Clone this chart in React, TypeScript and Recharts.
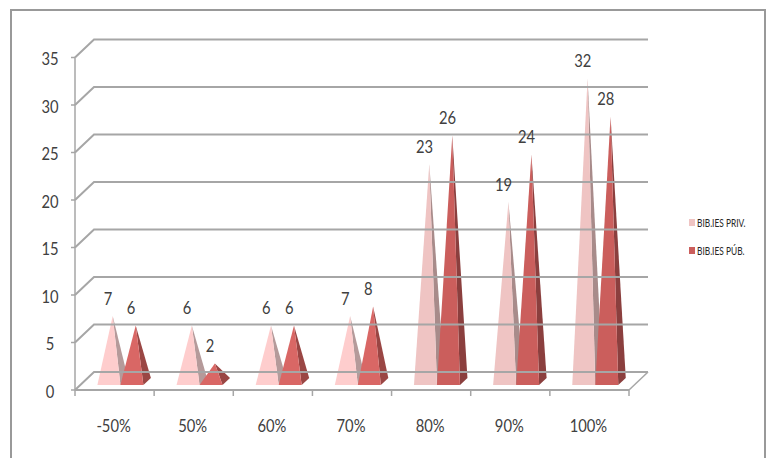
import { BarChart, Bar, XAxis, YAxis, Legend, LabelList } from "recharts";

const categories = ["-50%", "50%", "60%", "70%", "80%", "90%", "100%"];
const privValues = [7, 6, 6, 7, 23, 19, 32];
const pubValues = [6, 2, 6, 8, 26, 24, 28];
const yTicks = [0, 5, 10, 15, 20, 25, 30, 35];

const chartData = categories.map((name, i) => ({
  name,
  priv: privValues[i],
  pub: pubValues[i],
}));

const GRID = "#a6a6a6";
const TEXT = "#404040";
const FONT = "Lato, sans-serif";

// depth of the 3d box, in px
const DEPTH_X = 19;
const DEPTH_Y = 18;
const PLOT_WIDTH = 554;
const BAND = PLOT_WIDTH / categories.length;
const SHIFT = 5.4;

const TALL = 19;
const TONES: Record<string, { low: string[]; high: string[] }> = {
  priv: { low: ["#fecdcd", "#b59a9a"], high: ["#efc4c3", "#a88b8a"] },
  pub: { low: ["#d96765", "#9a4644"], high: ["#cb5e5c", "#8b3f3e"] },
};

function Pyramid(props: any) {
  const { x, y, width, height, payload, dataKey } = props;
  const tones = TONES[dataKey];
  const [front, side] = payload[dataKey] >= TALL ? tones.high : tones.low;
  const left = x + SHIFT;
  const right = left + width;
  const baseY = y + height - 5;
  const apexX = left + width / 2 + 3.8;
  const apexY = y - 7.5;
  return (
    <g>
      <polygon
        points={`${apexX},${apexY} ${right},${baseY} ${right + 7.5},${baseY - 7}`}
        fill={side}
      />
      <polygon points={`${apexX},${apexY} ${left},${baseY} ${right},${baseY}`} fill={front} />
    </g>
  );
}

// calibri-ish: lato squeezed horizontally
function NarrowText({ x, y, children }: any) {
  return (
    <text
      transform={`translate(${x} ${y}) scale(0.82 1)`}
      textAnchor="middle"
      dominantBaseline="central"
      fontSize={18}
      fontFamily={FONT}
      fill={TEXT}
    >
      {children}
    </text>
  );
}

function YTick(props: any) {
  const { x, y, payload } = props;
  return (
    <g>
      <line x1={x - 4} y1={y} x2={x} y2={y} stroke={GRID} strokeWidth={1.5} />
      <polyline
        points={`${x},${y} ${x + DEPTH_X},${y - DEPTH_Y} ${x + DEPTH_X + PLOT_WIDTH},${y - DEPTH_Y}`}
        fill="none"
        stroke={GRID}
        strokeWidth={2}
      />
      {payload.value === 0 && (
        <line
          x1={x + PLOT_WIDTH}
          y1={y}
          x2={x + PLOT_WIDTH + DEPTH_X}
          y2={y - DEPTH_Y}
          stroke={GRID}
          strokeWidth={1.5}
        />
      )}
      <NarrowText x={x - 25} y={y + 1}>
        {payload.value}
      </NarrowText>
    </g>
  );
}

function XTick(props: any) {
  const { x, y, payload, index } = props;
  return (
    <g>
      <line x1={x - BAND / 2} y1={y} x2={x - BAND / 2} y2={y + 6} stroke={GRID} strokeWidth={1.5} />
      {index === categories.length - 1 && (
        <line x1={x + BAND / 2} y1={y} x2={x + BAND / 2} y2={y + 6} stroke={GRID} strokeWidth={1.5} />
      )}
      <NarrowText x={x - 1} y={y + 35}>
        {payload.value}
      </NarrowText>
    </g>
  );
}

function ValueLabel(props: any) {
  const { x, y, width, value } = props;
  return (
    <NarrowText x={x + width / 2 + SHIFT - 1} y={y - 25.5}>
      {value}
    </NarrowText>
  );
}

function LegendBox({ payload }: any) {
  return (
    <div>
      {(payload || []).map((entry: any) => (
        <div
          key={entry.value}
          style={{
            display: "flex",
            alignItems: "center",
            height: 10,
            marginBottom: 18,
            fontSize: 11,
            fontFamily: FONT,
            color: "#262626",
            whiteSpace: "nowrap",
          }}
        >
          <span style={{ width: 6, height: 7, marginRight: 2, background: entry.color }} />
          <span style={{ display: "inline-block", transform: "scaleX(0.76)", transformOrigin: "left center" }}>
            {entry.value}
          </span>
        </div>
      ))}
    </div>
  );
}

export default function App() {
  return (
    <div style={{ position: "absolute", left: 0, top: 0, width: 767, height: 458, background: "#fff" }}>
      <div
        style={{
          position: "absolute",
          left: 10,
          top: 9,
          width: 756,
          height: 449,
          borderTop: "2px solid #999",
          borderLeft: "2px solid #999",
          borderRight: "2px solid #999",
          boxSizing: "border-box",
        }}
      />
      <div style={{ position: "absolute", left: 0, top: 0 }}>
        <BarChart
          width={767}
          height={458}
          data={chartData}
          margin={{ top: 57.5, right: 62, bottom: 28, left: 35 }}
          barSize={23}
          barGap={0}
        >
          <XAxis
            dataKey="name"
            height={40}
            axisLine={{ stroke: GRID, strokeWidth: 2 }}
            tickLine={false}
            tickSize={0}
            tickMargin={0}
            tick={<XTick />}
            interval={0}
          />
          <YAxis
            width={40}
            domain={[0, 35]}
            ticks={yTicks}
            axisLine={{ stroke: GRID, strokeWidth: 1.5 }}
            tickLine={false}
            tickSize={0}
            tickMargin={0}
            tick={<YTick />}
            interval={0}
          />
          <Legend
            layout="vertical"
            align="right"
            verticalAlign="middle"
            wrapperStyle={{ position: "absolute", left: 689, top: 217, width: 76 }}
            content={<LegendBox />}
          />
          <Bar dataKey="priv" name="BIB.IES PRIV." fill="#efc4c3" shape={<Pyramid />} isAnimationActive={false}>
            <LabelList dataKey="priv" content={<ValueLabel />} />
          </Bar>
          <Bar dataKey="pub" name="BIB.IES PÚB." fill="#cb5e5c" shape={<Pyramid />} isAnimationActive={false}>
            <LabelList dataKey="pub" content={<ValueLabel />} />
          </Bar>
        </BarChart>
      </div>
    </div>
  );
}
